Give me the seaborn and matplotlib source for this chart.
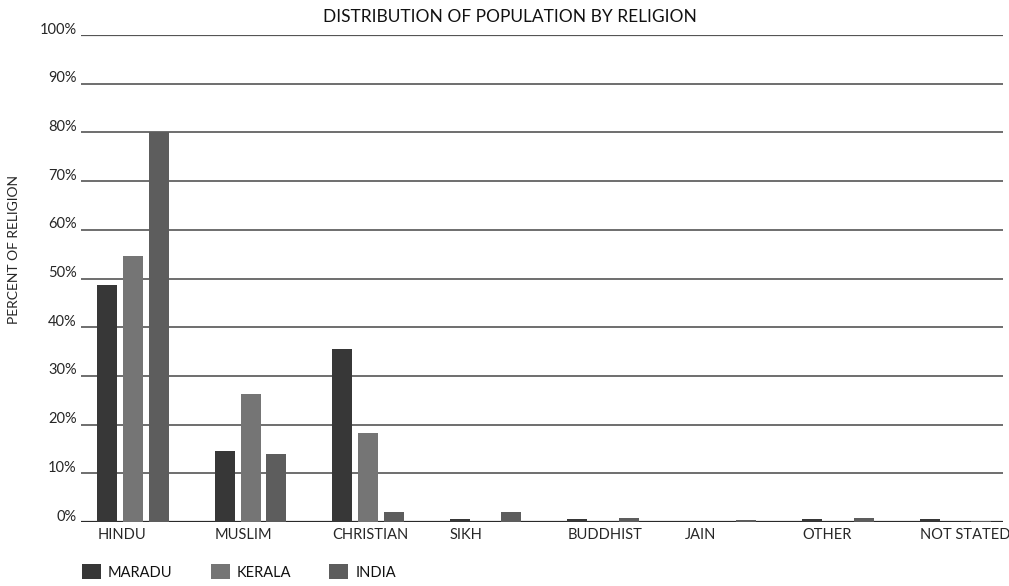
import matplotlib
matplotlib.use("Agg")
import matplotlib.pyplot as plt
import matplotlib.transforms as mtransforms
from matplotlib.patches import Patch
import numpy as np
import pandas as pd
import seaborn as sns

religions = ["HINDU", "MUSLIM", "CHRISTIAN", "SIKH", "BUDDHIST", "JAIN", "OTHER", "NOT STATED"]
regions = ["MARADU", "KERALA", "INDIA"]
maradu = [48.7, 14.6, 35.5, 0.7, 0.7, 0.0, 0.7, 0.7]
kerala = [54.6, 26.2, 18.3, 0.0, 0.0, 0.0, 0.0, 0.0]
india = [80.0, 13.9, 2.0, 2.0, 0.8, 0.4, 0.8, 0.3]
y_ticks = [0, 10, 20, 30, 40, 50, 60, 70, 80, 90, 100]
colors = ["#373737", "#757575", "#5d5d5d"]

df = pd.DataFrame({
    "religion": religions * 3,
    "region": [r for r in regions for _ in religions],
    "percent": maradu + kerala + india,
})

sns.set_theme(style="white")
plt.rcParams["font.family"] = ["Lato", "DejaVu Sans"]
plt.rcParams["text.color"] = "#111111"

fig = plt.figure(figsize=(10.09, 5.86), dpi=100)
ax = fig.add_axes([81 / 1009, 1 - 522 / 586, (1003 - 81) / 1009, (522 - 35) / 586])

# horizontal rules at each 10 %, kept underneath the bars
for v in y_ticks:
    ax.axhline(v, color="#2a2a2a" if v == 0 else "#555555",
               lw=1.6 if v in (0, 100) else 1.2, zorder=0)

sns.barplot(
    data=df, x="religion", y="percent", hue="region",
    order=religions, hue_order=regions, palette=colors,
    width=0.66, gap=0.23, edgecolor="none", legend=False, ax=ax,
)
for bar in ax.patches:
    bar.set_zorder(3)

ax.set_ylim(0, 100)
ax.set_xlim(-0.443, 7.404)
for sp in ax.spines.values():
    sp.set_visible(False)

ax.set_yticks(y_ticks)
ax.set_yticklabels([f"{v}%" for v in y_ticks], fontsize=10.5)
ax.tick_params(axis="y", length=0, pad=3)
shift_up = mtransforms.ScaledTranslation(0, 5 / 72, fig.dpi_scale_trans)
for lab in ax.get_yticklabels():
    lab.set_transform(lab.get_transform() + shift_up)

# category names start at the left edge of each group's first bar
ax.set_xticks(np.arange(len(religions)) - 0.305)
ax.set_xticklabels(religions, fontsize=10.5, ha="left")
ax.tick_params(axis="x", length=0, pad=4)
ax.set_xlabel("")
ax.set_ylabel("PERCENT OF RELIGION", fontsize=10)
ax.yaxis.set_label_coords(-0.066, 0.56)

fig.text(0.505, 1 - 17 / 586, "DISTRIBUTION OF POPULATION BY RELIGION",
         ha="center", va="center", fontsize=12.5)

handles = [Patch(facecolor=c, edgecolor="none") for c in colors]
fig.legend(handles, regions, loc="center left", bbox_to_anchor=(76 / 1009, 1 - 572 / 586),
           ncol=3, frameon=False, fontsize=10.5, handlelength=1.3, handleheight=1.2,
           handletextpad=0.5, columnspacing=2.6, borderaxespad=0)

fig.savefig("out.png", dpi=100, facecolor="white")
